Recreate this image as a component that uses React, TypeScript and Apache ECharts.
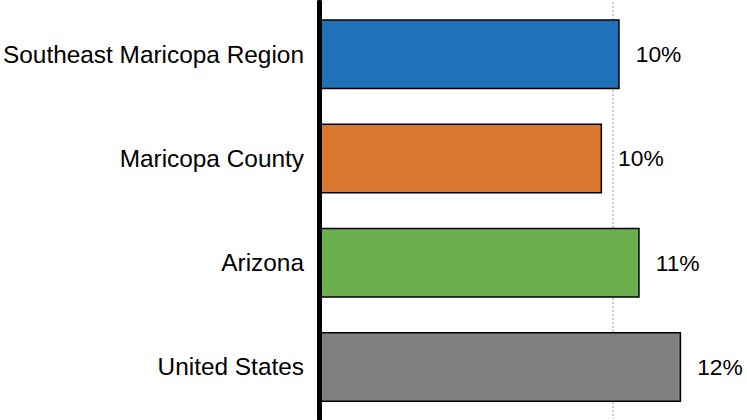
import React, { useEffect, useRef } from "react";
import * as echarts from "echarts";

const categories = ["Southeast Maricopa Region", "Maricopa County", "Arizona", "United States"];
const values = [10.23, 9.63, 10.91, 12.32];
const valueLabels = ["10%", "10%", "11%", "12%"];
const colors = ["#2171BA", "#DA7730", "#6AB04F", "#808080"];
const axisMax = 14.56;

export default function App() {
  const ref = useRef<HTMLDivElement>(null);
  useEffect(() => {
    if (!ref.current) return;
    const chart = echarts.init(ref.current, null, { renderer: "svg" });
    chart.setOption({
      animation: false,
      grid: { left: 317.5, right: 0, top: 2, bottom: 1, containLabel: false },
      xAxis: {
        type: "value",
        min: 0,
        max: axisMax,
        interval: 10,
        axisLine: { show: false },
        axisTick: { show: false },
        axisLabel: { show: false },
        splitLine: {
          show: true,
          showMinLine: false,
          showMaxLine: false,
          lineStyle: { color: "#bdbdbd", type: [2, 2], width: 1.5 },
        },
      },
      yAxis: {
        type: "category",
        data: categories,
        inverse: true,
        z: 10,
        axisLine: { show: true, lineStyle: { color: "#000", width: 5 } },
        axisTick: { show: false },
        axisLabel: {
          color: "#000",
          fontSize: 24.4,
          fontFamily: "Liberation Sans, Arial, sans-serif",
          margin: 15,
        },
      },
      series: [
        {
          type: "bar",
          barWidth: 70,
          data: values.map((v, i) => ({
            value: v,
            itemStyle: { color: colors[i], borderColor: "#000", borderWidth: 1.5 },
          })),
          label: {
            show: true,
            position: "right",
            distance: 16,
            color: "#000",
            fontSize: 22.8,
            fontFamily: "Liberation Sans, Arial, sans-serif",
            formatter: (p: any) => valueLabels[p.dataIndex],
          },
        },
      ],
    });
    return () => chart.dispose();
  }, []);
  return <div ref={ref} style={{ position: "absolute", left: 0, top: 0, width: 747, height: 420 }} />;
}
